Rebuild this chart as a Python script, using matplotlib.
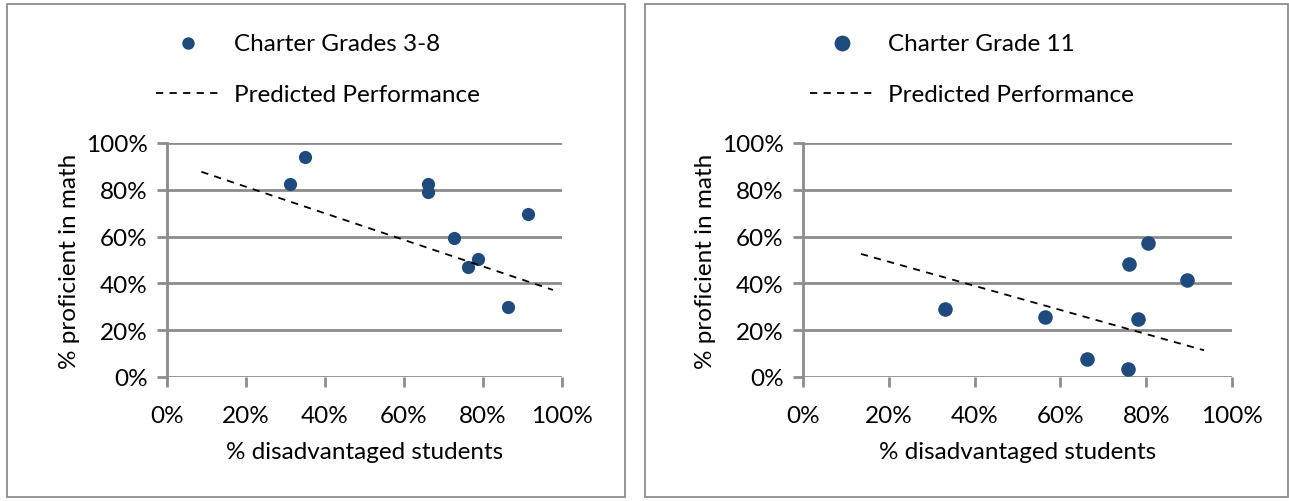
import matplotlib.pyplot as plt
from matplotlib.patches import Rectangle
from matplotlib.ticker import PercentFormatter

# Grades 3-8 charter schools: share disadvantaged vs share proficient
g38_disadv = [0.311, 0.349, 0.662, 0.662, 0.726, 0.761, 0.788, 0.863, 0.915]
g38_prof = [0.825, 0.942, 0.825, 0.792, 0.593, 0.472, 0.506, 0.301, 0.696]
g38_pred_x = [0.087, 0.977]
g38_pred_y = [0.877, 0.372]

# Grade 11 charter schools
g11_disadv = [0.332, 0.563, 0.662, 0.757, 0.761, 0.781, 0.805, 0.896]
g11_prof = [0.290, 0.255, 0.077, 0.036, 0.484, 0.250, 0.572, 0.413]
g11_pred_x = [0.135, 0.935]
g11_pred_y = [0.526, 0.114]

ticks = [0, 0.2, 0.4, 0.6, 0.8, 1.0]

BLUE = "#1F4A7E"
GRID = "#8C8C8C"
FONT = "Lato"
FS = 17.5

plt.rcParams["font.family"] = FONT

fig = plt.figure(figsize=(12.89, 5.02), dpi=100)
W, H = 1289, 502


def fx(px):
    return px / W


def fy(py):
    return 1 - py / H


def panel(box, axes_px, xs, ys, px, py, name, msize, leg_msize, leg_anchor):
    x0, y0, x1, y1 = box
    fig.patches.append(
        Rectangle((fx(x0), fy(y1)), fx(x1 - x0), (y1 - y0) / H,
                  transform=fig.transFigure, fill=False,
                  edgecolor=GRID, linewidth=1.3)
    )
    ax0, ay0, ax1, ay1 = axes_px
    ax = fig.add_axes([fx(ax0), fy(ay1), fx(ax1 - ax0), (ay1 - ay0) / H])
    ax.scatter(xs, ys, s=msize, color=BLUE, zorder=3, label=name,
               linewidths=0)
    ax.plot(px, py, color="black", linestyle=(0, (4, 3.5)), linewidth=1.3,
            zorder=4, label="Predicted Performance")
    ax.set_xlim(0, 1)
    ax.set_ylim(0, 1)
    ax.set_xticks(ticks)
    ax.set_yticks(ticks)
    ax.xaxis.set_major_formatter(PercentFormatter(1.0, decimals=0))
    ax.yaxis.set_major_formatter(PercentFormatter(1.0, decimals=0))
    ax.grid(axis="y", color=GRID, linewidth=2)
    ax.set_axisbelow(True)
    for side in ("top", "right", "bottom"):
        ax.spines[side].set_visible(False)
    ax.spines["left"].set_color(GRID)
    ax.spines["left"].set_linewidth(2)
    ax.tick_params(axis="both", colors=GRID, length=7, width=2,
                   labelcolor="black", labelsize=FS)
    ax.tick_params(axis="x", pad=13)
    ax.tick_params(axis="y", pad=7)
    ax.set_xlabel("% disadvantaged students", fontsize=FS, labelpad=11)
    ax.set_ylabel("% proficient in math", fontsize=FS, labelpad=4)
    ax.legend(loc="center", bbox_to_anchor=leg_anchor,
              bbox_transform=fig.transFigure, frameon=False,
              fontsize=FS, handlelength=2.6, handletextpad=0.6,
              labelspacing=1.25, markerscale=(leg_msize / msize) ** 0.5)
    return ax


panel((7, 5, 625, 498), (167, 144, 562, 378), g38_disadv, g38_prof,
      g38_pred_x, g38_pred_y, "Charter Grades 3-8", 90, 80,
      (fx(318), fy(70)))
panel((645, 5, 1288, 498), (803, 144, 1232, 378), g11_disadv, g11_prof,
      g11_pred_x, g11_pred_y, "Charter Grade 11", 110, 130,
      (fx(972), fy(70)))

fig.savefig("out.png", dpi=100)
